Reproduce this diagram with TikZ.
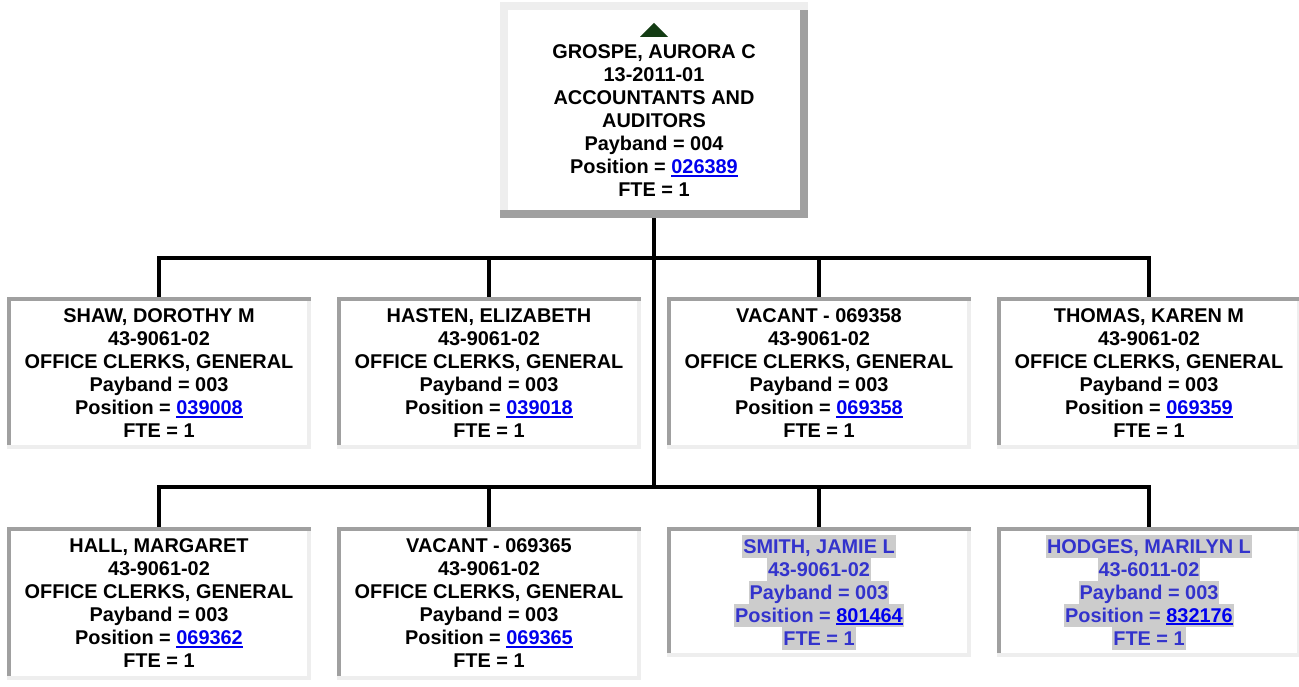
\documentclass[tikz,border=0pt]{standalone}
\usepackage{fontspec}
\setmainfont{Liberation Sans}
\usetikzlibrary{calc}
\definecolor{lightg}{HTML}{EEEEEE}
\definecolor{darkg}{HTML}{A0A0A0}
\definecolor{linkblue}{HTML}{0000EE}
\definecolor{hltext}{HTML}{3333CC}
\definecolor{hlbg}{HTML}{CCCCCC}
\definecolor{trigreen}{HTML}{143C14}
\newcommand\poslink[1]{{\color{linkblue}\setbox0\hbox{#1}\rlap{\rule[-3.2pt]{\wd0}{1.8pt}}\box0}}
\newcommand\hlline[1]{\setbox2\hbox{\kern1pt#1\kern1pt}\rlap{\color{hlbg}\rule[-4.5pt]{\wd2}{23pt}}\box2}
\tikzset{
  base/.style={font=\fontsize{19.9}{23}\selectfont\bfseries, align=center, inner sep=0pt},
  childbox/.style={base, rectangle, minimum width=304pt, fill=lightg,
    path picture={
      \fill[darkg] (path picture bounding box.north west) rectangle ([yshift=-3.5pt]path picture bounding box.north east);
      \fill[darkg] (path picture bounding box.north west) rectangle ([xshift=3.5pt,yshift=4pt]path picture bounding box.south west);
      \fill[white] ([xshift=3.5pt,yshift=-3.5pt]path picture bounding box.north west) rectangle ([xshift=-4pt,yshift=4pt]path picture bounding box.south east);
    }},
  topbox/.style={rectangle, inner sep=0pt, minimum width=308pt, minimum height=216pt, fill=lightg,
    path picture={
      \fill[darkg] ([xshift=-8pt,yshift=-8pt]path picture bounding box.north east) rectangle (path picture bounding box.south east);
      \fill[darkg] ([yshift=8pt]path picture bounding box.south west) rectangle (path picture bounding box.south east);
      \fill[white] ([xshift=8pt,yshift=-8pt]path picture bounding box.north west) rectangle ([xshift=-8pt,yshift=8pt]path picture bounding box.south east);
    }},
  rowA/.style={minimum height=152pt},
  rowB/.style={minimum height=153pt},
  rowC/.style={minimum height=130pt, text=hltext},
  conn/.style={line width=4pt, line join=miter, line cap=butt},
}
\begin{document}
\begin{tikzpicture}[x=1pt,y=-1pt]
\useasboundingbox (0,0) rectangle (1299,686);
% top box
\node[topbox] (top) at (654,110) {};
\node[base] (toptext) at (654,121) {GROSPE, AURORA C\\13-2011-01\\ACCOUNTANTS AND\\AUDITORS\\Payband = 004\\Position = \poslink{026389}\\FTE = 1};
\fill[trigreen] ($(top.north)+(-14pt,-35pt)$) -- ++(28pt,0pt) -- ++(-14pt,14pt) -- cycle;
% first row
\node[childbox,rowA] (shaw) at (159,373) {SHAW, DOROTHY M\\43-9061-02\\OFFICE CLERKS, GENERAL\\Payband = 003\\Position = \poslink{039008}\\FTE = 1};
\node[childbox,rowA] (hasten) at (489,373) {HASTEN, ELIZABETH\\43-9061-02\\OFFICE CLERKS, GENERAL\\Payband = 003\\Position = \poslink{039018}\\FTE = 1};
\node[childbox,rowA] (vac1) at (819,373) {VACANT - 069358\\43-9061-02\\OFFICE CLERKS, GENERAL\\Payband = 003\\Position = \poslink{069358}\\FTE = 1};
\node[childbox,rowA] (thomas) at (1149,373) {THOMAS, KAREN M\\43-9061-02\\OFFICE CLERKS, GENERAL\\Payband = 003\\Position = \poslink{069359}\\FTE = 1};
% second row
\node[childbox,rowB] (hall) at (159,603.5) {HALL, MARGARET\\43-9061-02\\OFFICE CLERKS, GENERAL\\Payband = 003\\Position = \poslink{069362}\\FTE = 1};
\node[childbox,rowB] (vac2) at (489,603.5) {VACANT - 069365\\43-9061-02\\OFFICE CLERKS, GENERAL\\Payband = 003\\Position = \poslink{069365}\\FTE = 1};
\node[childbox,rowC] (smith) at (819,592) {\hlline{SMITH, JAMIE L}\\\hlline{43-9061-02}\\\hlline{Payband = 003}\\\hlline{Position = \poslink{801464}}\\\hlline{FTE = 1}};
\node[childbox,rowC] (hodges) at (1149,592) {\hlline{HODGES, MARILYN L}\\\hlline{43-6011-02}\\\hlline{Payband = 003}\\\hlline{Position = \poslink{832176}}\\\hlline{FTE = 1}};
% connectors
\coordinate (bus1) at (654,258);
\coordinate (bus2) at (654,487);
\draw[conn] (top.south) -- (bus2);
\draw[conn] (shaw.north) -- (shaw.north |- bus1) -- (thomas.north |- bus1) -- (thomas.north);
\draw[conn] (hasten.north) -- (hasten.north |- bus1);
\draw[conn] (vac1.north) -- (vac1.north |- bus1);
\draw[conn] (hall.north) -- (hall.north |- bus2) -- (hodges.north |- bus2) -- (hodges.north);
\draw[conn] (vac2.north) -- (vac2.north |- bus2);
\draw[conn] (smith.north) -- (smith.north |- bus2);
\end{tikzpicture}
\end{document}
